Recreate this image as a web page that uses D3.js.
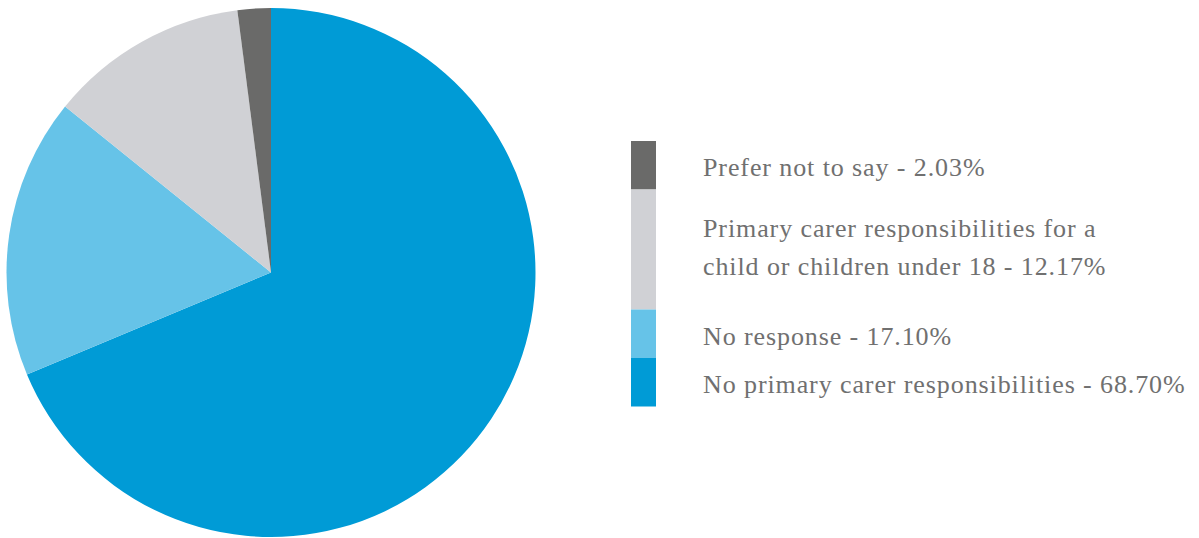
<!DOCTYPE html>
<html>
<head>
<meta charset="utf-8">
<script src="https://cdn.jsdelivr.net/npm/d3@7/dist/d3.min.js"></script>
<style>
  html, body { margin: 0; padding: 0; background: #ffffff; }
  svg { display: block; }
</style>
</head>
<body>
<svg id="chart" width="1199" height="538"></svg>
<script>
// ---- data ----
const categories = [
  "No primary carer responsibilities",
  "No response",
  "Primary carer responsibilities for a child or children under 18",
  "Prefer not to say"
];
const values = [68.70, 17.10, 12.17, 2.03];
const valueLabels = ["68.70%", "17.10%", "12.17%", "2.03%"];
const colors = ["#009bd6", "#66c3e8", "#d0d1d5", "#6a6a69"];
// legend text lines
const legendLines = [
  ["No primary carer responsibilities - 68.70%"],
  ["No response - 17.10%"],
  ["Primary carer responsibilities for a", "child or children under 18 - 12.17%"],
  ["Prefer not to say - 2.03%"]
];

// ---- layout ----
const svg = d3.select("#chart");
const cx = 271, cy = 272.5, radius = 264.5;

const pie = d3.pie().sort(null).value(d => d)(values);
const arc = d3.arc().innerRadius(0).outerRadius(radius);

svg.append("g")
  .attr("transform", `translate(${cx},${cy})`)
  .selectAll("path")
  .data(pie)
  .join("path")
  .attr("d", arc)
  .attr("fill", (d, i) => colors[i]);

// legend
const legendX = 631, legendW = 25, legendTop = 141;
const oneLineH = 48.5, twoLineH = 120;
const textX = 703;
const fontSize = 26;
const lineGap = 38;

const order = d3.range(values.length).reverse();
let y = legendTop;
const lg = svg.append("g");
order.forEach(i => {
  const lines = legendLines[i];
  const h = lines.length > 1 ? twoLineH : oneLineH;
  lg.append("rect")
    .attr("x", legendX).attr("y", y)
    .attr("width", legendW).attr("height", h)
    .attr("fill", colors[i]);
  const t = lg.append("text")
    .attr("x", textX)
    .attr("font-family", "'Liberation Serif', serif")
    .attr("font-size", fontSize)
    .attr("letter-spacing", 0.9)
    .attr("fill", "#707070");
  const baseY = lines.length === 1 ? y + 35 : y + 47;
  lines.forEach((ln, k) => {
    t.append("tspan")
      .attr("x", textX)
      .attr("y", baseY + k * lineGap)
      .text(ln);
  });
  y += h;
});
</script>
</body>
</html>
